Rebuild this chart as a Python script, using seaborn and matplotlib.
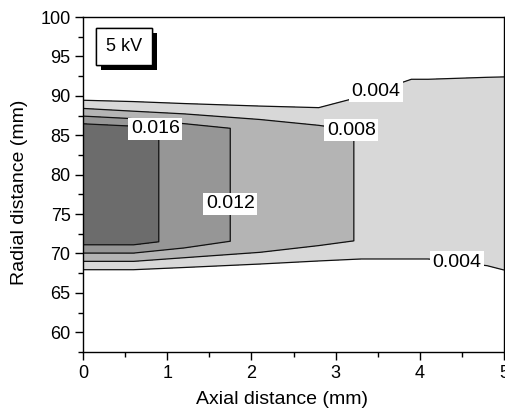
import numpy as np
import matplotlib
matplotlib.use("Agg")
import matplotlib.pyplot as plt
import matplotlib.patheffects as pe
from matplotlib.ticker import MultipleLocator
import seaborn as sns

# ---- data: probe columns along the axial direction ----
col_x = [0.0, 0.6, 1.2, 2.1, 2.8, 3.3, 3.9, 4.1, 4.8, 5.0]
peak = [0.019, 0.0175, 0.0145, 0.0104, 0.0095, 0.0077, 0.0070, 0.0068, 0.0066, 0.0065]
shoulder = [0.006, 0.006, 0.006, 0.006, 0.006, 0.006, 0.006, 0.006, 0.006, 0.006]
# radial positions (mm) of each column's profile nodes
bottom_zero = [66.87, 66.87, 66.98, 68.12, 66.75, 67.90, 67.90, 67.90, 66.95, 66.30]
bottom_shoulder = [68.475, 68.475, 68.84, 68.93, 70.20, 70.00, 70.00, 70.00, 69.20, 68.70]
bottom_peak = [71.89, 71.49, 71.475, 71.60, 71.60, 71.60, 71.60, 71.60, 71.60, 71.60]
top_peak = [85.72, 85.79, 85.695, 86.00, 85.60, 85.60, 85.60, 85.60, 85.60, 85.60]
top_shoulder = [88.89, 88.525, 88.33, 87.83, 87.13, 89.00, 91.00, 91.00, 91.20, 91.20]
top_zero = [90.54, 90.76, 90.40, 90.44, 91.24, 91.70, 94.30, 94.30, 94.65, 94.80]
radial_min, radial_max = 57.5, 100.0

levels = [0.004, 0.008, 0.012, 0.016]
fill_levels = levels + [0.03]
fill_colors = ["#d8d8d8", "#b4b4b4", "#969696", "#6c6c6c"]
label_text = "5 kV"
label_pos = [(0.86, 85.9), (1.75, 76.3), (3.19, 85.8), (3.48, 90.6), (4.44, 69.2)]

# ---- build the curvilinear grid ----
n = len(col_x)
zeros = [0.0] * n
Y = np.array([[radial_min] * n, bottom_zero, bottom_shoulder, bottom_peak,
              top_peak, top_shoulder, top_zero, [radial_max] * n])
Z = np.array([zeros, zeros, shoulder, peak, peak, shoulder, zeros, zeros])
X = np.tile(np.array(col_x), (Y.shape[0], 1))

sns.set_theme(style="ticks")
plt.rcParams["font.family"] = ["Liberation Sans", "DejaVu Sans"]
plt.rcParams["text.color"] = "black"
plt.rcParams["axes.labelcolor"] = "black"

fig = plt.figure(figsize=(5.05, 4.12), dpi=100)
ax = fig.add_axes([83 / 505, 1 - 352 / 412, (504 - 83) / 505, (352 - 17) / 412])

ax.contourf(X, Y, Z, levels=fill_levels, colors=fill_colors)
cs = ax.contour(X, Y, Z, levels=levels, colors="#111111", linewidths=0.9)
texts = ax.clabel(cs, levels=levels, manual=label_pos, inline=False,
                  fmt="%.3f", fontsize=14, colors="black")
for t in texts:
    t.set_rotation(0)
    t.set_color("black")
    t.set_bbox(dict(facecolor="white", edgecolor="none", pad=1.8))
    t.set_zorder(5)

ax.set_xlim(0, 5)
ax.set_ylim(radial_min, radial_max)
ax.xaxis.set_major_locator(MultipleLocator(1))
ax.xaxis.set_minor_locator(MultipleLocator(0.5))
ax.yaxis.set_major_locator(MultipleLocator(5))
ax.yaxis.set_minor_locator(MultipleLocator(2.5))
ax.tick_params(which="major", direction="out", length=6, width=1,
               labelsize=13, colors="black", pad=3)
ax.tick_params(which="minor", direction="out", length=3.5, width=1, colors="black")
ax.tick_params(top=False, right=False, which="both")
for s in ax.spines.values():
    s.set_color("black")
    s.set_linewidth(1.0)

ax.set_xlabel("Axial distance (mm)", fontsize=14, color="black")
ax.set_ylabel("Radial distance (mm)", fontsize=14, color="black")
ax.xaxis.set_label_coords(0.473, -0.115)
ax.yaxis.set_label_coords(-0.13, 0.478)

kv = ax.text(0.097, 0.913, label_text, transform=ax.transAxes, fontsize=13,
             ha="center", va="center", zorder=6, color="black",
             bbox=dict(boxstyle="square,pad=0.55", facecolor="white",
                       edgecolor="black", linewidth=1.0))
kv.get_bbox_patch().set_path_effects(
    [pe.withSimplePatchShadow(offset=(3.5, -4), shadow_rgbFace="black", alpha=1.0),
     pe.Normal()])

fig.savefig("out.png", dpi=100)
